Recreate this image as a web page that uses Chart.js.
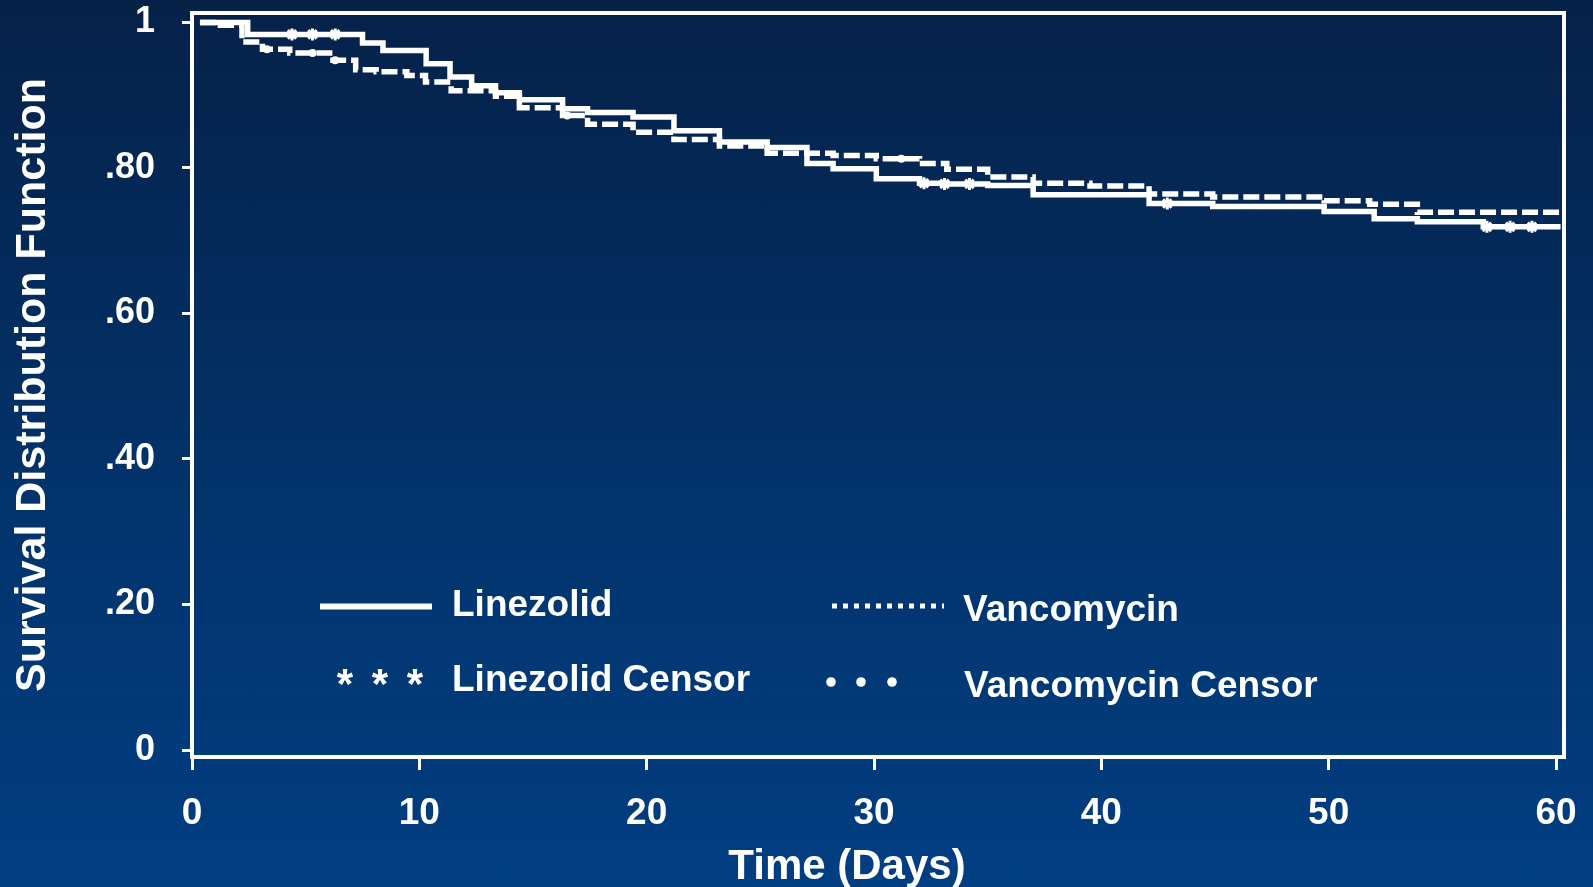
<!DOCTYPE html>
<html>
<head>
<meta charset="utf-8">
<script src="https://cdn.jsdelivr.net/npm/chart.js@4.4.1/dist/chart.umd.min.js"></script>
<style>
html,body{margin:0;padding:0;width:1593px;height:887px;overflow:hidden;
  background:linear-gradient(to bottom,#052148 0%,#02356f 62%,#013e82 100%);}
#c{position:absolute;left:0;top:0;}
</style>
</head>
<body>
<canvas id="c" width="1593" height="887"></canvas>
<script>
// ---- data ----
const linezolidDays = [0.35, 2.45, 7.5, 8.4, 10.3, 11.35, 12.3, 13.35, 14.4, 16.3, 17.4, 19.4, 21.2, 23.2, 25.3, 27.05, 28.2, 30.1, 32.0, 33.2, 35.0, 37.0, 42.1, 44.9, 49.8, 52.0, 53.9, 56.8, 60.2];
const linezolidSurv = [1.0, 0.9835, 0.9716, 0.9615, 0.943, 0.925, 0.913, 0.9034, 0.8938, 0.8814, 0.876, 0.870, 0.851, 0.8356, 0.828, 0.806, 0.799, 0.785, 0.779, 0.778, 0.776, 0.763, 0.751, 0.747, 0.740, 0.730, 0.726, 0.719, 0.719];

const vancomycinDays = [0.35, 1.25, 2.2, 3.1, 4.3, 6.2, 7.2, 8.1, 9.45, 10.27, 11.4, 13.35, 14.4, 16.3, 17.4, 19.4, 21.2, 23.2, 25.3, 28.2, 30.1, 32.0, 33.2, 35.0, 37.0, 39.5, 42.1, 44.9, 49.8, 51.8, 53.9, 60.2];
const vancomycinSurv = [1.0, 0.996, 0.973, 0.963, 0.958, 0.948, 0.935, 0.932, 0.927, 0.918, 0.906, 0.8984, 0.8828, 0.872, 0.860, 0.849, 0.839, 0.830, 0.820, 0.817, 0.8127, 0.806, 0.798, 0.7875, 0.779, 0.775, 0.764, 0.760, 0.755, 0.750, 0.739, 0.739];

const linezolidCensorDays = [4.4, 5.3, 6.3, 32.2, 33.1, 34.2, 42.9, 56.96, 57.98, 58.94];
const linezolidCensorSurv = [0.9835, 0.9835, 0.9835, 0.779, 0.778, 0.778, 0.751, 0.719, 0.719, 0.719];

const vancomycinCensorDays = [3.3, 5.3, 6.3, 16.5, 31.2];
const vancomycinCensorSurv = [0.963, 0.958, 0.948, 0.872, 0.8127];

const xTickValues = [0, 10, 20, 30, 40, 50, 60];
const xTickLabels = ['0', '10', '20', '30', '40', '50', '60'];
const yTickValues = [0, 0.2, 0.4, 0.6, 0.8, 1];
const yTickLabels = ['0', '.20', '.40', '.60', '.80', '1'];

const seriesNames = ['Linezolid', 'Vancomycin', 'Linezolid Censor', 'Vancomycin Censor'];
const xTitle = 'Time (Days)';
const yTitle = 'Survival Distribution Function';

// ---- helpers ----
const pts = (xs, ys) => xs.map((x, i) => ({x: x, y: ys[i]}));
const FONT = '"Liberation Sans", Arial, sans-serif';
const WHITE = '#ffffff';

const framePlugin = {
  id: 'frame',
  afterDraw(chart) {
    const {ctx, chartArea: a} = chart;
    ctx.save();
    ctx.strokeStyle = WHITE;
    ctx.lineWidth = 4;
    ctx.strokeRect(a.left, a.top, a.right - a.left, a.bottom - a.top);
    ctx.restore();
  }
};

const legendPlugin = {
  id: 'kmLegend',
  afterDraw(chart) {
    const ctx = chart.ctx;
    ctx.save();
    ctx.fillStyle = WHITE;
    ctx.strokeStyle = WHITE;
    ctx.font = 'bold 37px ' + FONT;
    ctx.textAlign = 'left';
    ctx.textBaseline = 'alphabetic';
    // Linezolid solid line
    ctx.lineWidth = 6;
    ctx.beginPath(); ctx.moveTo(320, 606.5); ctx.lineTo(432, 606.5); ctx.stroke();
    ctx.fillText(seriesNames[0], 452, 616);
    // Vancomycin dotted line
    ctx.lineWidth = 5;
    ctx.setLineDash([5, 6]);
    ctx.beginPath(); ctx.moveTo(832, 606); ctx.lineTo(944, 606); ctx.stroke();
    ctx.setLineDash([]);
    ctx.fillText(seriesNames[1], 963, 621);
    ctx.fillText(seriesNames[2], 452, 691);
    ctx.fillText(seriesNames[3], 964, 697);
    // Linezolid censor asterisks
    ctx.textAlign = 'center';
    ctx.font = 'bold 42px ' + FONT;
    [345, 380, 415].forEach(x => ctx.fillText('*', x, 697.5));
    // Vancomycin censor dots
    [831, 861, 892].forEach(x => { ctx.beginPath(); ctx.arc(x, 682, 4.8, 0, Math.PI * 2); ctx.fill(); });
    // x axis title
    ctx.font = 'bold 42px ' + FONT;
    ctx.fillText(xTitle, 847, 879);
    ctx.restore();
  }
};

new Chart(document.getElementById('c'), {
  type: 'line',
  data: {
    datasets: [
      {label: seriesNames[0], data: pts(linezolidDays, linezolidSurv), stepped: 'before',
       borderColor: WHITE, borderWidth: 5.5, pointRadius: 0, fill: false, borderCapStyle: 'butt'},
      {label: seriesNames[1], data: pts(vancomycinDays, vancomycinSurv), stepped: 'before',
       borderColor: WHITE, borderWidth: 5.5, borderDash: [16, 5], pointRadius: 0, fill: false, borderCapStyle: 'butt'},
      {label: seriesNames[2], data: pts(linezolidCensorDays, linezolidCensorSurv), showLine: false,
       pointStyle: 'star', pointRadius: 6, pointBorderWidth: 3, pointBorderColor: WHITE, pointBackgroundColor: WHITE},
      {label: seriesNames[3], data: pts(vancomycinCensorDays, vancomycinCensorSurv), showLine: false,
       pointStyle: 'circle', pointRadius: 4, pointBorderWidth: 0, pointBackgroundColor: WHITE}
    ]
  },
  options: {
    responsive: false,
    animation: false,
    events: [],
    layout: {autoPadding: false, padding: {left: 0, top: 13, right: 29, bottom: 0}},
    plugins: {legend: {display: false}, tooltip: {enabled: false}, title: {display: false}},
    scales: {
      x: {
        type: 'linear', position: 'bottom', min: 0, max: 60.35,
        afterBuildTicks: s => { s.ticks = xTickValues.map(v => ({value: v})); },
        afterFit: s => { s.height = 130; s.paddingLeft = 0; s.paddingRight = 0; },
        border: {display: false},
        grid: {drawOnChartArea: false, drawTicks: true, tickLength: 13, color: WHITE, lineWidth: 3},
        ticks: {color: WHITE, font: {family: FONT, size: 37, weight: 'bold'}, padding: 22,
                maxRotation: 0, autoSkip: false,
                callback: (v, i) => xTickLabels[i]},
        title: {display: false}
      },
      y: {
        type: 'linear', position: 'left', min: -0.0096, max: 1.0129,
        afterBuildTicks: s => { s.ticks = yTickValues.map(v => ({value: v})); },
        afterFit: s => { s.width = 192; s.paddingTop = 0; s.paddingBottom = 0; },
        border: {display: false},
        grid: {drawOnChartArea: false, drawTicks: true, tickLength: 10, color: WHITE, lineWidth: 3},
        ticks: {color: WHITE, font: {family: FONT, size: 36, weight: 'bold'}, padding: 27,
                autoSkip: false, callback: (v, i) => yTickLabels[i]},
        title: {display: true, text: yTitle, color: WHITE,
                font: {family: FONT, size: 43, weight: 'bold'}, padding: {top: 7, bottom: 0}}
      }
    }
  },
  plugins: [framePlugin, legendPlugin]
});
</script>
</body>
</html>
